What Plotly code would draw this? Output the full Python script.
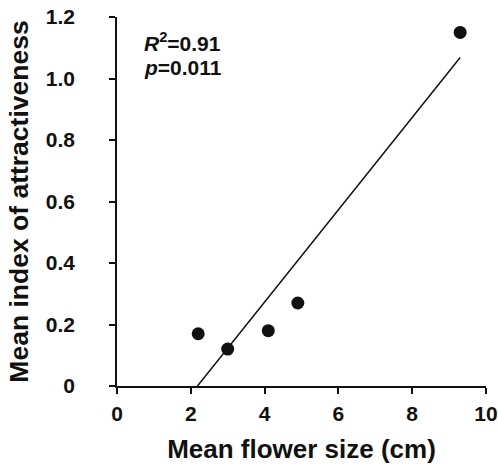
import numpy as np
import plotly.graph_objects as go

flower_size = [2.2, 3.0, 4.1, 4.9, 9.3]
attractiveness = [0.17, 0.12, 0.18, 0.27, 1.15]
x_ticks = [0, 2, 4, 6, 8, 10]
x_tick_labels = ["0", "2", "4", "6", "8", "10"]
y_ticks = [0, 0.2, 0.4, 0.6, 0.8, 1.0, 1.2]
y_tick_labels = ["0", "0.2", "0.4", "0.6", "0.8", "1.0", "1.2"]

slope, intercept = np.polyfit(flower_size, attractiveness, 1)
x_line = [-intercept / slope, max(flower_size)]
y_line = [slope * v + intercept for v in x_line]

FONT = "Liberation Sans, Arial, sans-serif"
INK = "#111111"

fig = go.Figure()
fig.add_trace(go.Scatter(x=x_line, y=y_line, mode="lines",
                         line=dict(color=INK, width=1.5), showlegend=False))
fig.add_trace(go.Scatter(x=flower_size, y=attractiveness, mode="markers",
                         marker=dict(color=INK, size=13), showlegend=False))

fig.add_annotation(x=0.068, xref="paper", y=1.119, yref="y", xanchor="left", yanchor="middle",
                   text="<b><i>R</i><sup>2</sup>=0.91</b>", showarrow=False,
                   font=dict(family=FONT, size=21, color=INK))
fig.add_annotation(x=0.068, xref="paper", y=1.037, yref="y", xanchor="left", yanchor="middle",
                   text="<b><i>p</i>=0.011</b>", showarrow=False,
                   font=dict(family=FONT, size=21, color=INK))

axis_common = dict(showgrid=False, zeroline=False, showline=True, linecolor=INK,
                   linewidth=1.5, ticks="outside", ticklen=6, tickwidth=1.5,
                   tickcolor=INK, automargin=False)

fig.update_xaxes(range=[0, 10], tickmode="array", tickvals=x_ticks,
                 ticktext=["<b>%s</b>" % t for t in x_tick_labels],
                 ticklabelstandoff=2,
                 title=dict(text="<b>Mean flower size (cm)</b>", standoff=16,
                            font=dict(family=FONT, size=26, color=INK)),
                 **axis_common)
fig.update_yaxes(range=[0, 1.2], tickmode="array", tickvals=y_ticks,
                 ticktext=["<b>%s</b>" % t for t in y_tick_labels],
                 ticklabelstandoff=30,
                 title=dict(text="<b>Mean index of attractiveness</b>", standoff=10,
                            font=dict(family=FONT, size=26.5, color=INK)),
                 **axis_common)

fig.update_layout(width=498, height=468, margin=dict(l=117, r=12, t=17, b=82),
                  plot_bgcolor="white", paper_bgcolor="white",
                  xaxis_tickfont=dict(family=FONT, size=21, color=INK),
                  yaxis_tickfont=dict(family=FONT, size=21, color=INK))

fig.write_html("out.html")
